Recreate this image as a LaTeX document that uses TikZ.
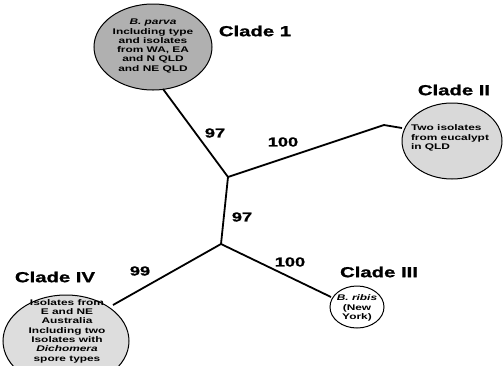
\documentclass[tikz,border=0pt]{standalone}
\usepackage{fontspec}
\setmainfont{Liberation Sans}[FakeStretch=1.45]
\newfontfamily\heavyfont{Liberation Sans}[FakeStretch=1.4,FakeBold=1.2]
\usetikzlibrary{shapes.geometric}
\begin{document}
\begin{tikzpicture}[x=1pt,y=-1pt,
  branch/.style={line width=1.8pt,black},
  oval/.style={line width=1pt,draw=black},
  cladelabel/.style={font=\heavyfont\bfseries\fontsize{14.5}{14.5}\selectfont,inner sep=0pt},
  support/.style={font=\heavyfont\bfseries\fontsize{13}{13}\selectfont,inner sep=0pt},
  inner/.style={font=\bfseries\fontsize{8.2}{9.3}\selectfont,align=center,inner sep=0pt}]
\useasboundingbox (0,0) rectangle (504,365);
% ellipses
\draw[oval,fill=gray!62] (153,47) ellipse [x radius=59, y radius=43];
\draw[oval,fill=gray!30] (452,141) ellipse [x radius=50, y radius=38];
\draw[oval,fill=white] (357,307) ellipse [x radius=27, y radius=21];
\draw[oval,fill=gray!27] (66,341) ellipse [x radius=63, y radius=46];
% coordinates
\coordinate (e1) at (163,89);
\coordinate (j1) at (228,177);
\coordinate (j2) at (221,244);
\coordinate (b2) at (384,125);
\coordinate (e2) at (402,128);
\coordinate (e3) at (331,297);
\coordinate (e4) at (113,305);
% branches
\draw[branch] (e1) -- (j1);
\draw[branch] (j1) -- (b2) -- (e2);
\draw[branch] (j1) -- (j2);
\draw[branch] (j2) -- (e3);
\draw[branch] (j2) -- (e4);
% texts in ellipses
\node[inner] (t1) at (153,46) {\itshape B. parva\\Including type\\and isolates\\from WA, EA\\and N QLD\\and NE QLD};
\node[inner,align=left] (t2) at (450,138) {Two isolates\\from eucalypt\\in QLD};
\node[inner] (t3) at (357,308) {\itshape B. ribis\\(New\\York)};
\node[inner] (t4) at (67,331) {Isolates from\\E and NE\\Australia\\Including two\\Isolates with\\\textit{Dichomera}\\spore types};
% clade labels
\node[cladelabel] (c1) at (255,31) {Clade 1};
\node[cladelabel] (c2) at (454,90) {Clade II};
\node[cladelabel] (c3) at (379,272) {Clade III};
\node[cladelabel] (c4) at (55,277) {Clade IV};
% support values
\node[support] (s1) at (215,133) {97};
\node[support] (s2) at (283,142) {100};
\node[support] (s3) at (242,217) {97};
\node[support] (s4) at (290,262) {100};
\node[support] (s5) at (140,271) {99};
\end{tikzpicture}
\end{document}
